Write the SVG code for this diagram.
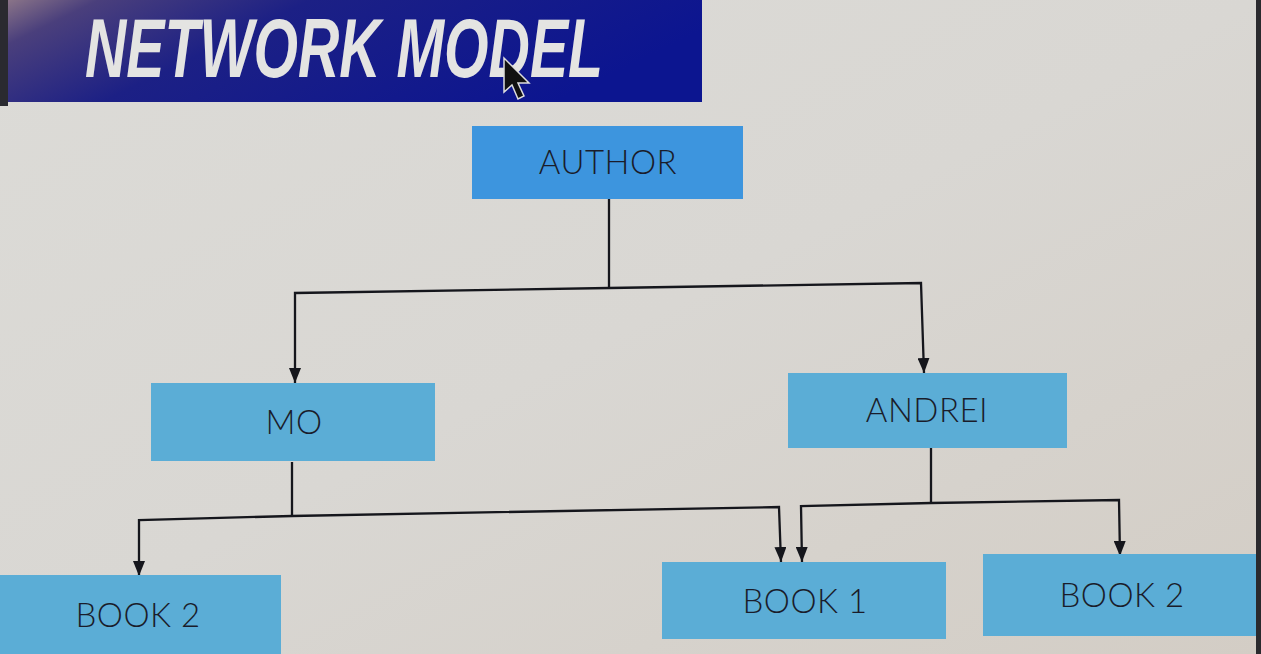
<svg xmlns="http://www.w3.org/2000/svg" width="1261" height="654" viewBox="0 0 1261 654">
<defs>
<linearGradient id="bg" x1="0" y1="0" x2="1" y2="1">
<stop offset="0" stop-color="#dcdbd7"/>
<stop offset="0.5" stop-color="#d9d7d3"/>
<stop offset="1" stop-color="#d3cdc5"/>
</linearGradient>
<linearGradient id="banner" x1="0" y1="0" x2="1" y2="0.3">
<stop offset="0" stop-color="#8a7488"/>
<stop offset="0.12" stop-color="#4a3f7c"/>
<stop offset="0.4" stop-color="#1c2085"/>
<stop offset="1" stop-color="#0c1590"/>
</linearGradient>
<marker id="arr" viewBox="0 0 15 12" refX="15" refY="6" markerWidth="15" markerHeight="12" markerUnits="userSpaceOnUse" orient="auto">
<path d="M0,0 L15,6 L0,12 Z" fill="#15161c"/>
</marker>
<style>
.lbl{font-family:Lato,"Open Sans","DejaVu Sans",sans-serif;font-size:33px;fill:#1a1c2a;text-anchor:middle;font-weight:300;letter-spacing:0.5px}
.box{fill:#5badd6}
.line{fill:none;stroke:#15161c;stroke-width:2.3}
.arrow{fill:none;stroke:#15161c;stroke-width:2.3;marker-end:url(#arr)}
</style>
</defs>
<rect x="0" y="0" width="1261" height="654" fill="url(#bg)"/>
<rect x="0" y="0" width="8" height="106" fill="#2a2a30"/>
<rect x="1256" y="0" width="5" height="654" fill="#2a2a2e"/>
<g id="title">
<rect x="8" y="0" width="694" height="102" fill="url(#banner)"/>
<text x="85" y="77" font-family="'Liberation Sans','DejaVu Sans',sans-serif" font-size="84" font-weight="bold" font-style="italic" fill="#e4e4e2" textLength="518" lengthAdjust="spacingAndGlyphs">NETWORK MODEL</text>
<path d="M504,58 L504,92 L512,85 L518,99 L524,96 L518,83 L529,83 Z" fill="#111" stroke="#ddd" stroke-width="1.5"/>
</g>
<g id="connectors">
<path class="line" d="M609,199 L609,288"/>
<path class="arrow" d="M609,288 L295,293 L295,383"/>
<path class="arrow" d="M609,288 L921,283 L924,373"/>
<path class="line" d="M292,462 L292,516"/>
<path class="arrow" d="M292,516 L139,520 L139,576"/>
<path class="arrow" d="M292,516 L779,507 L781,562"/>
<path class="line" d="M931,448 L931,503"/>
<path class="arrow" d="M931,503 L801,506 L802,562"/>
<path class="arrow" d="M931,503 L1119,500 L1120,556"/>
</g>
<g id="author">
<rect x="472" y="126" width="271" height="73" fill="#3d95de"/>
<text class="lbl" x="608" y="174">AUTHOR</text>
</g>
<g id="mo">
<rect class="box" x="151" y="383" width="284" height="78"/>
<text class="lbl" x="294" y="434">MO</text>
</g>
<g id="andrei">
<rect class="box" x="788" y="373" width="279" height="75"/>
<text class="lbl" x="927" y="422">ANDREI</text>
</g>
<g id="book2-left">
<rect class="box" x="0" y="575" width="281" height="79"/>
<text class="lbl" x="138" y="627">BOOK 2</text>
</g>
<g id="book1">
<rect class="box" x="662" y="562" width="284" height="77"/>
<text class="lbl" x="805" y="613">BOOK 1</text>
</g>
<g id="book2-right">
<rect class="box" x="983" y="554" width="273" height="82"/>
<text class="lbl" x="1122" y="607">BOOK 2</text>
</g>
</svg>
